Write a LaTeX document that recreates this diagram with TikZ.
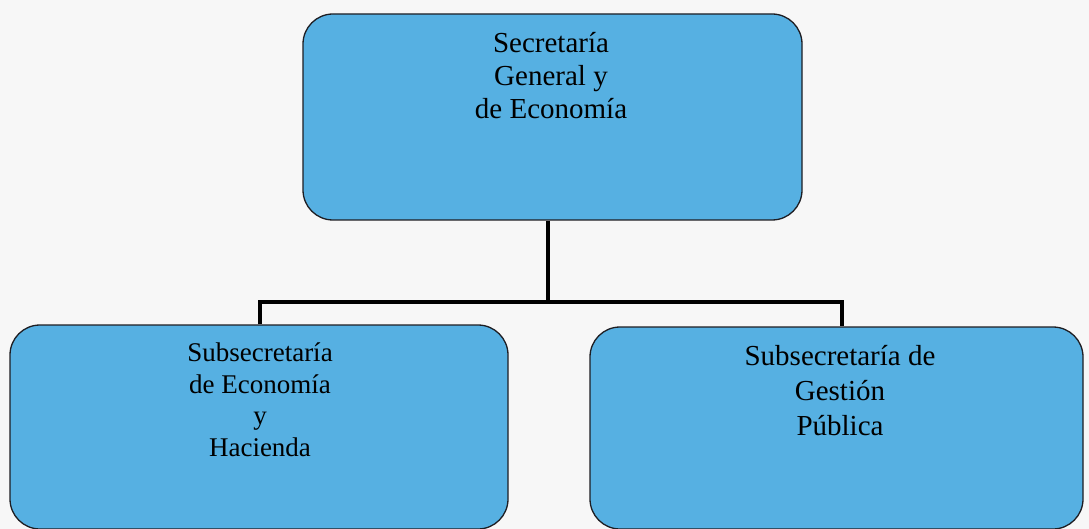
\documentclass[tikz,border=0pt]{standalone}
\usepackage{fontspec}
\setmainfont{Liberation Serif}
\definecolor{boxblue}{RGB}{86,176,226}
\definecolor{paper}{RGB}{247,247,247}
\definecolor{edge}{RGB}{30,30,35}
\begin{document}
\begin{tikzpicture}[x=1pt,y=-1pt,
  orgbox/.style={draw=edge,line width=1.3pt,fill=boxblue,rounded corners=30pt,inner sep=0pt},
  orgtext/.style={anchor=north,align=center,inner sep=0pt,text=black},
  conn/.style={draw=black,line width=3.5pt}]
\fill[paper] (0,0) rectangle (1089,529);
\useasboundingbox (0,0) rectangle (1089,529);
% boxes
\node[orgbox,minimum width=499pt,minimum height=206pt] (top) at (552.5,117) {};
\node[orgbox,minimum width=498pt,minimum height=204pt] (left) at (259,427) {};
\node[orgbox,minimum width=493pt,minimum height=202pt] (right) at (836.5,428) {};
% connectors
\coordinate (j) at (548,302);
\draw[conn] ([xshift=-4.5pt]top.south) -- (j);
\draw[conn] ([xshift=1pt]left.north) |- (j) -| ([xshift=5.5pt]right.north);
% texts
\node[orgtext,font=\fontsize{29}{33}\selectfont] (ttop) at (551,32) {Secretaría\\General y\\de Economía};
\node[orgtext,font=\fontsize{27}{31.5}\selectfont] (tleft) at (260,343) {Subsecretaría\\de Economía\\y\\Hacienda};
\node[orgtext,font=\fontsize{29}{35}\selectfont] (tright) at (840,345) {Subsecretaría de\\Gestión\\Pública};
\end{tikzpicture}
\end{document}
